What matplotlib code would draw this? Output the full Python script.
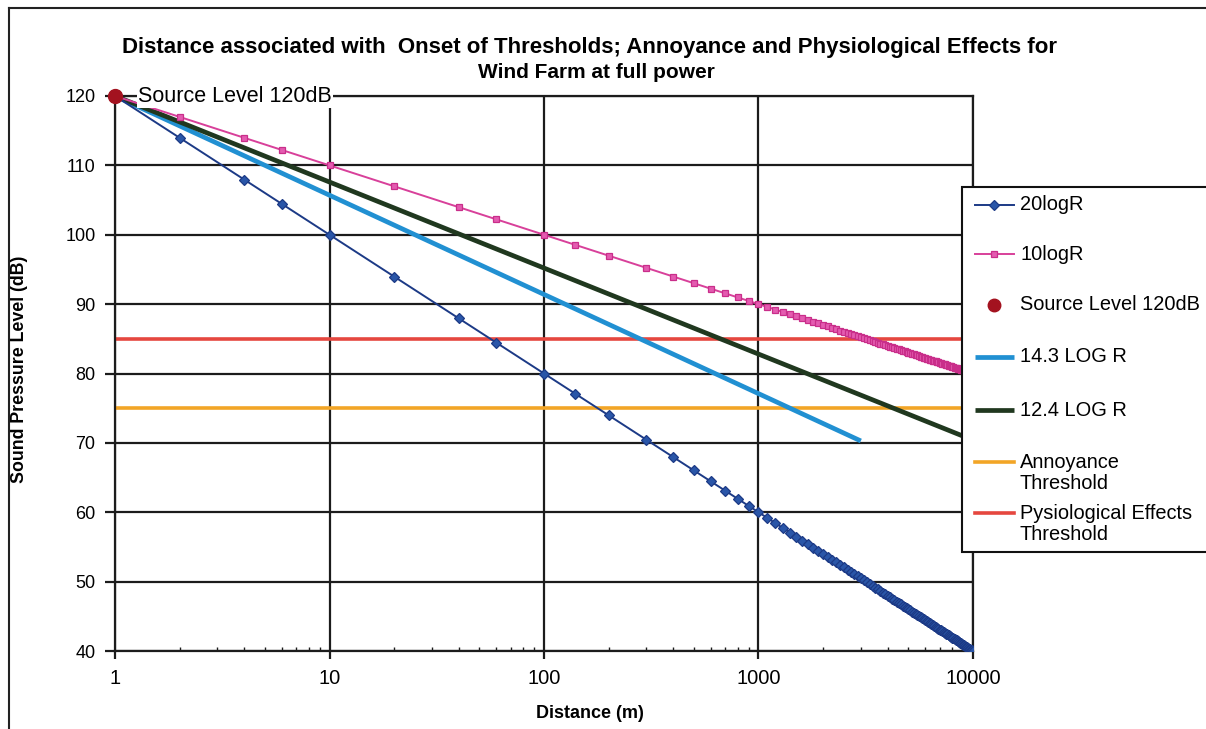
import numpy as np
import matplotlib
matplotlib.use("Agg")
import matplotlib.pyplot as plt
from matplotlib.lines import Line2D
from matplotlib.patches import Rectangle

plt.rcParams['font.family'] = ['Liberation Sans', 'DejaVu Sans']

# ---- data -------------------------------------------------------------
source_level = 120            # dB at 1 m
# distances (m) at which the series points are plotted
distances_sparse = [1, 2, 4, 6, 10, 20, 40, 60, 100, 140, 200, 300, 400,
                    500, 600, 700, 800, 900]
distances_dense = list(range(1000, 10001, 100))
distances = np.array(distances_sparse + distances_dense, dtype=float)

# attenuation laws named in the legend (dB per decade of distance)
coef_20 = 20.0
coef_10 = 10.0
coef_143 = 14.3
coef_124 = 12.4
end_143 = 3000               # 14.3 LOG R line stops here

annoyance_threshold = 75
physiological_threshold = 85

x_ticks = [1, 10, 100, 1000, 10000]
x_tick_labels = ['1', '10', '100', '1000', '10000']
y_ticks = [40, 50, 60, 70, 80, 90, 100, 110, 120]

level_20 = source_level - coef_20 * np.log10(distances)
level_10 = source_level - coef_10 * np.log10(distances)
mask_143 = distances <= end_143
dist_143 = distances[mask_143]
level_143 = source_level - coef_143 * np.log10(dist_143)
level_124 = source_level - coef_124 * np.log10(distances)

# ---- figure -----------------------------------------------------------
W, H = 1206, 729
fig = plt.figure(figsize=(W / 100, H / 100), dpi=100)
fig.patch.set_facecolor('white')


def fx(px):
    return px / W


def fy(py):
    return 1 - py / H


ax = fig.add_axes([115 / W, (H - 651) / H, (973 - 115) / W, (651 - 96) / H])
ax.set_xscale('log')
ax.set_xlim(1, 10000)
ax.set_ylim(40, 120)

grid_c = '#1c1c1c'
ax.grid(True, which='major', color=grid_c, lw=1.6, zorder=0)
ax.set_axisbelow(True)
for s in ['left', 'bottom', 'top', 'right']:
    ax.spines[s].set_linewidth(1.6)
    ax.spines[s].set_color(grid_c)

ax.set_xticks(x_ticks)
ax.set_xticklabels(x_tick_labels)
ax.set_yticks(y_ticks)
ax.xaxis.set_minor_locator(matplotlib.ticker.LogLocator(base=10, subs=np.arange(2, 10)))
ax.xaxis.set_minor_formatter(matplotlib.ticker.NullFormatter())
ax.tick_params(axis='y', direction='out', length=7, width=1.6, color=grid_c,
               labelsize=13, pad=7)
ax.tick_params(axis='x', which='major', direction='out', length=6, width=1.6,
               color=grid_c, labelsize=14.5, pad=7)
ax.tick_params(axis='x', which='minor', direction='in', length=3, width=1.0,
               color=grid_c)

# styles
st_ann = dict(color='#f2a526', lw=2.6)
st_phy = dict(color='#e5473f', lw=2.6)
st_143 = dict(color='#2190d2', lw=3.4, solid_capstyle='butt')
st_124 = dict(color='#20381f', lw=3.4, solid_capstyle='butt')
st_20 = dict(color='#1c3a86', lw=1.4, marker='D', markersize=5.2,
             markerfacecolor='#2a56a8', markeredgecolor='#1c3a86', markeredgewidth=0.9)
st_10 = dict(color='#d8409a', lw=1.4, marker='s', markersize=5.0,
             markerfacecolor='#e45bb0', markeredgecolor='#c92e8a', markeredgewidth=0.9)
st_src = dict(linestyle='none', marker='o', markersize=10, color='#a3121f')

# threshold lines
ax.plot([1, 10000], [annoyance_threshold] * 2, zorder=2, **st_ann)
ax.plot([1, 10000], [physiological_threshold] * 2, zorder=2, **st_phy)

# log-law lines
ax.plot(dist_143, level_143, zorder=3, **st_143)
ax.plot(distances, level_124, zorder=3, **st_124)
ax.plot(distances, level_20, zorder=4, **st_20)
ax.plot(distances, level_10, zorder=4, **st_10)
ax.plot([1], [source_level], zorder=6, clip_on=False, **st_src)

# data label
ax.annotate('Source Level 120dB', xy=(1, source_level), xytext=(23, 0),
            textcoords='offset pixels', ha='left', va='center', fontsize=15.5,
            zorder=5, bbox=dict(boxstyle='square,pad=0.05', fc='white', ec='none'))

# labels
ax.set_xlabel('Distance (m)', fontsize=13, fontweight='bold')
ax.set_ylabel('Sound Pressure Level (dB)', fontsize=12.8, fontweight='bold')
ax.yaxis.set_label_coords((28 - 115) / (973 - 115), (651 - 369) / (651 - 96))
ax.xaxis.set_label_coords((590 - 115) / (973 - 115), -(713 - 651) / (651 - 96))
ax.xaxis.label.set_va('center')

fig.text(fx(589), fy(48),
         'Distance associated with  Onset of Thresholds; Annoyance and Physiological Effects for',
         ha='center', va='center', fontsize=16, fontweight='bold')
fig.text(fx(596), fy(73), 'Wind Farm at full power',
         ha='center', va='center', fontsize=15, fontweight='bold')

# legend (drawn by hand so rows keep the reference's even spacing)
fig.add_artist(Rectangle((fx(962), fy(552)), fx(1220) - fx(962), fy(187) - fy(552),
                         transform=fig.transFigure, facecolor='white',
                         edgecolor='#111111', lw=1.5, zorder=10))
legend_rows = [
    (st_20, '20logR', 205),
    (st_10, '10logR', 254),
    (st_src, 'Source Level 120dB', 305),
    (st_143, '14.3 LOG R', 357),
    (st_124, '12.4 LOG R', 410),
    (st_ann, 'Annoyance\nThreshold', 462),
    (st_phy, 'Pysiological Effects\nThreshold', 513),
]
for style, label, yrow in legend_rows:
    line_style = {k: v for k, v in style.items() if not k.startswith('marker')}
    if line_style.get('linestyle') != 'none':
        fig.add_artist(Line2D([fx(975), fx(1014)], [fy(yrow)] * 2, zorder=11,
                              **line_style))
    if 'marker' in style:
        ms = dict(style)
        ms['linestyle'] = 'none'
        if ms['marker'] == 'o':
            ms['markersize'] = 9
        fig.add_artist(Line2D([fx(994)], [fy(yrow)], zorder=12, **ms))
    nlines = label.count('\n') + 1
    ycen = yrow + (nlines - 1) * 11
    fig.text(fx(1020), fy(ycen), label, ha='left', va='center', fontsize=14.4,
             linespacing=1.1, zorder=12)

# outer chart border (left and top)
fig.add_artist(Line2D([fx(9), fx(9)], [0, fy(8)], color='#222222', lw=1.5))
fig.add_artist(Line2D([fx(9), 1], [fy(8), fy(8)], color='#222222', lw=1.5))

fig.savefig('out.png', dpi=100, facecolor='white')
